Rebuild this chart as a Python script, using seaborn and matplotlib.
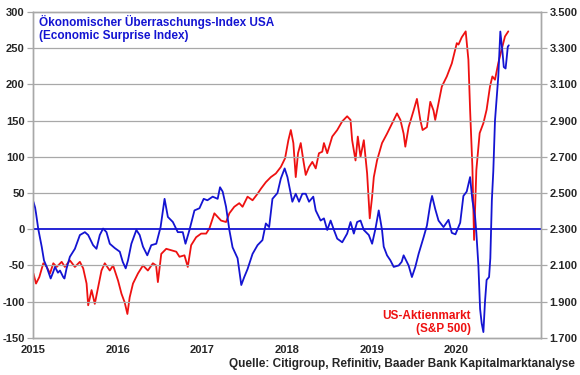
import matplotlib
matplotlib.use("Agg")
import matplotlib.pyplot as plt
import seaborn as sns

# Economic Surprise Index (left axis), time as decimal years
esi_t = [2015.004, 2015.024, 2015.035, 2015.062, 2015.102, 2015.129, 2015.161, 2015.208, 2015.235,
         2015.259, 2015.294, 2015.318, 2015.356, 2015.371, 2015.396, 2015.435, 2015.494, 2015.553,
         2015.612, 2015.651, 2015.709, 2015.749, 2015.788, 2015.827, 2015.867, 2015.906, 2015.965,
         2016.024, 2016.059, 2016.094, 2016.121, 2016.161, 2016.220, 2016.259, 2016.298, 2016.349,
         2016.396, 2016.455, 2016.506, 2016.553, 2016.592, 2016.651, 2016.709, 2016.768, 2016.800,
         2016.847, 2016.906, 2016.965, 2017.015, 2017.059, 2017.121, 2017.180, 2017.208, 2017.239,
         2017.279, 2017.318, 2017.356, 2017.415, 2017.459, 2017.494, 2017.533, 2017.592, 2017.651,
         2017.709, 2017.749, 2017.788, 2017.827, 2017.886, 2017.926, 2017.971, 2018.004, 2018.044,
         2018.062, 2018.102, 2018.141, 2018.180, 2018.220, 2018.259, 2018.309, 2018.338, 2018.396,
         2018.435, 2018.474, 2018.514, 2018.553, 2018.592, 2018.651, 2018.709, 2018.749, 2018.788,
         2018.827, 2018.867, 2018.906, 2018.965, 2019.004, 2019.044, 2019.082, 2019.121, 2019.141,
         2019.180, 2019.220, 2019.259, 2019.318, 2019.353, 2019.376, 2019.435, 2019.474, 2019.514,
         2019.553, 2019.612, 2019.651, 2019.691, 2019.712, 2019.749, 2019.788, 2019.847, 2019.906,
         2019.945, 2019.988, 2020.044, 2020.082, 2020.121, 2020.161, 2020.188, 2020.220, 2020.235,
         2020.259, 2020.279, 2020.298, 2020.318, 2020.337, 2020.356, 2020.385, 2020.400, 2020.418,
         2020.435, 2020.455, 2020.474, 2020.494, 2020.518, 2020.545, 2020.559, 2020.580, 2020.592,
         2020.606, 2020.618]
esi_v = [38, 30, 22, 0, -24, -43, -52, -68, -60,
         -52, -60, -57, -66, -68, -54, -38, -27, -8,
         -4, -8, -22, -27, -8, 1, -4, -20, -26,
         -31, -45, -54, -43, -20, -1, -8, -24, -36,
         -22, -20, 3, 42, 17, 10, -4, -4, -20,
         -1, 26, 29, 42, 40, 45, 42, 58, 52,
         31, -1, -25, -40, -77, -66, -55, -34, -22,
         -15, 8, 3, 42, 50, 70, 84, 72, 49,
         38, 49, 38, 49, 49, 38, 45, 26, 12,
         15, -1, 12, -1, -13, -18, -6, 10, -6,
         10, 12, -1, -8, -20, 1, 26, -1, -24,
         -36, -43, -52, -50, -45, -36, -50, -66, -52,
         -34, -11, 5, 35, 46, 28, 12, 3, 13,
         -5, -7, 9, 46, 52, 72, 40, 17, -5,
         -50, -110, -130, -142, -100, -70, -66, -40, 40,
         80, 150, 180, 211, 273, 243, 224, 222, 235,
         252, 254]

# S&P 500 (right axis)
spx_t = [2015.004, 2015.035, 2015.074, 2015.121, 2015.161, 2015.200, 2015.239, 2015.279, 2015.338,
         2015.376, 2015.435, 2015.494, 2015.553, 2015.592, 2015.632, 2015.651, 2015.691, 2015.729,
         2015.768, 2015.808, 2015.847, 2015.906, 2015.945, 2015.965, 2016.004, 2016.044, 2016.082,
         2016.114, 2016.141, 2016.180, 2016.239, 2016.298, 2016.356, 2016.415, 2016.453, 2016.474,
         2016.514, 2016.573, 2016.632, 2016.691, 2016.729, 2016.788, 2016.827, 2016.867, 2016.926,
         2016.985, 2017.044, 2017.082, 2017.141, 2017.180, 2017.220, 2017.279, 2017.318, 2017.376,
         2017.435, 2017.474, 2017.533, 2017.592, 2017.651, 2017.691, 2017.749, 2017.808, 2017.867,
         2017.926, 2017.976, 2018.015, 2018.044, 2018.074, 2018.102, 2018.129, 2018.161, 2018.192,
         2018.220, 2018.259, 2018.298, 2018.338, 2018.376, 2018.415, 2018.435, 2018.474, 2018.533,
         2018.592, 2018.651, 2018.709, 2018.749, 2018.768, 2018.808, 2018.835, 2018.867, 2018.906,
         2018.945, 2018.976, 2019.004, 2019.024, 2019.062, 2019.121, 2019.180, 2019.239, 2019.298,
         2019.338, 2019.376, 2019.396, 2019.435, 2019.494, 2019.533, 2019.573, 2019.600, 2019.651,
         2019.691, 2019.729, 2019.749, 2019.788, 2019.827, 2019.886, 2019.945, 2020.004, 2020.024,
         2020.062, 2020.109, 2020.141, 2020.161, 2020.188, 2020.208, 2020.235, 2020.274, 2020.318,
         2020.356, 2020.396, 2020.424, 2020.455, 2020.494, 2020.533, 2020.573, 2020.612]
spx_v = [2056, 2000, 2036, 2112, 2092, 2056, 2112, 2092, 2120,
         2092, 2128, 2092, 2120, 2084, 2000, 1880, 1964, 1888,
         1980, 2072, 2112, 2072, 2100, 2072, 2016, 1944, 1896,
         1832, 1924, 2000, 2056, 2100, 2072, 2112, 2100, 2008,
         2164, 2192, 2184, 2176, 2148, 2156, 2092, 2212, 2256,
         2276, 2276, 2304, 2388, 2368, 2348, 2340, 2388, 2424,
         2444, 2424, 2480, 2460, 2496, 2524, 2560, 2588, 2608,
         2644, 2692, 2792, 2848, 2776, 2588, 2720, 2776, 2680,
         2600, 2644, 2672, 2636, 2720, 2728, 2776, 2720, 2812,
         2848, 2896, 2924, 2904, 2792, 2680, 2812, 2700, 2792,
         2608, 2360, 2480, 2588, 2680, 2776, 2828, 2884, 2940,
         2904, 2828, 2756, 2864, 2956, 3020, 2904, 2848, 2864,
         3004, 2956, 2904, 2996, 3088, 3144, 3216, 3328, 3320,
         3360, 3393, 3236, 2960, 2646, 2241, 2628, 2831, 2886,
         2960, 3089, 3144, 3126, 3218, 3292, 3365, 3393]

year_ticks = [2015, 2016, 2017, 2018, 2019, 2020]
left_ticks = [-150, -100, -50, 0, 50, 100, 150, 200, 250, 300]
right_ticks = [1700, 1900, 2100, 2300, 2500, 2700, 2900, 3100, 3300, 3500]

BLUE = "#1414D2"
RED = "#EE1111"
GREY = "#A8A8A8"

sns.set_style("white")
plt.rcParams["font.family"] = ["Liberation Sans", "DejaVu Sans"]
plt.rcParams["font.weight"] = "bold"

fig = plt.figure(figsize=(5.8, 3.75), dpi=100)
ax = fig.add_axes([0.057, 0.099, 0.876, 0.869])
ax2 = ax.twinx()

sns.lineplot(x=spx_t, y=spx_v, ax=ax2, color=RED, linewidth=1.3)
sns.lineplot(x=esi_t, y=esi_v, ax=ax, color=BLUE, linewidth=1.3)
ax.set_zorder(ax2.get_zorder() + 1)
ax.patch.set_visible(False)

ax.axhline(0, color=BLUE, linewidth=1.3, zorder=1)
for v in left_ticks[1:-1]:
    if v != 0:
        ax.axhline(v, color=GREY, linewidth=0.9, zorder=0)

ax.set_xlim(2015, 2021)
ax.set_ylim(-150, 300)
ax2.set_ylim(1700, 3500)
ax.set_xticks(year_ticks)
ax.set_xticklabels([str(y) for y in year_ticks])
ax.set_yticks(left_ticks)
ax.set_yticklabels([str(v) for v in left_ticks])
ax2.set_yticks(right_ticks)
ax2.set_yticklabels([f"{v:,}".replace(",", ".") for v in right_ticks])

for a in (ax, ax2):
    for s in a.spines.values():
        s.set_color(GREY)
        s.set_linewidth(1.0)
    a.tick_params(length=4, width=0.9, color=GREY, labelsize=8, pad=2)
ax.set_xlabel("")
ax.set_ylabel("")
ax2.set_ylabel("")
ax.tick_params(axis="x", pad=1)
ax2.tick_params(axis="y", pad=2)

ax.text(0.012, 0.992, "Ökonomischer Überraschungs-Index USA\n(Economic Surprise Index)",
        transform=ax.transAxes, ha="left", va="top", color=BLUE, fontsize=8.5,
        fontweight="bold", linespacing=1.1)
ax.text(0.861, 0.008, "US-Aktienmarkt\n(S&P 500)", transform=ax.transAxes,
        ha="right", va="bottom", color=RED, fontsize=8.5, fontweight="bold",
        multialignment="right", linespacing=1.1)
fig.text(0.991, 0.03, "Quelle: Citigroup, Refinitiv, Baader Bank Kapitalmarktanalyse",
         ha="right", va="center", fontsize=8.5, fontweight="bold")

fig.savefig("out.png", dpi=100)
